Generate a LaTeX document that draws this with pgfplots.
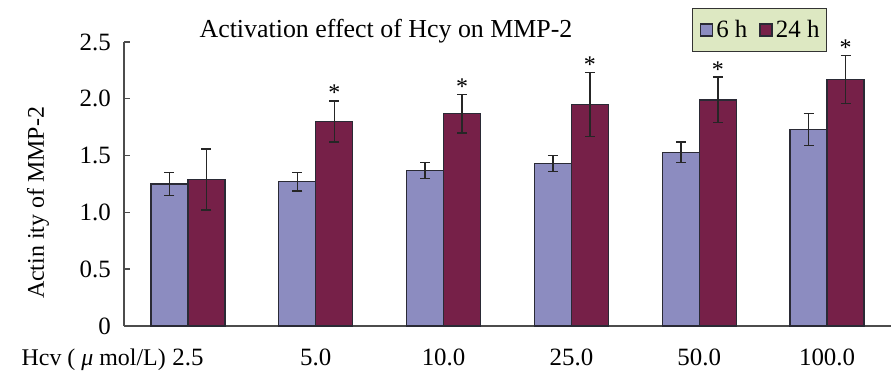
\documentclass[border=0pt]{standalone}
\usepackage{pgfplots}
\pgfplotsset{compat=1.18}
\usepackage{fontspec}
\setmainfont{Liberation Serif}
\definecolor{barblue}{HTML}{8C8CC0}
\definecolor{barred}{HTML}{762048}
\definecolor{legfill}{HTML}{DDE8C2}
\definecolor{edge}{HTML}{2A2A35}
\begin{document}
\begin{tikzpicture}
\begin{axis}[
  at={(124bp,46bp)}, anchor=south west,
  scale only axis, width=767bp, height=284bp,
  xmin=-0.5, xmax=5.5, ymin=0, ymax=2.5,
  axis x line=bottom, axis y line=left,
  axis line style={-, line width=1.4bp, draw=black!70},
  xtick={0,1,2,3,4,5},
  xticklabels={2.5,5.0,10.0,25.0,50.0,100.0},
  major x tick style={draw=none},
  extra x ticks={0.5,1.5,2.5,3.5,4.5},
  extra x tick labels={},
  extra x tick style={tick align=inside, major tick length=5bp, tick style={line width=1.4bp, black!70}},
  ytick={0,0.5,1,1.5,2,2.5},
  yticklabels={0,0.5,1.0,1.5,2.0,2.5},
  y tick style={line width=1.4bp, black!70},
  tick align=inside, major tick length=6bp,
  /pgf/number format/assume math mode=true,
  xticklabel style={anchor=base, yshift=-39bp, font=\fontsize{25}{28}\selectfont},
  yticklabel style={anchor=east, inner sep=0pt, xshift=-13bp, font=\fontsize{25}{28}\selectfont},
  clip=false,
  legend columns=2,
  legend style={at={(axis description cs:0.7405,1.1197)}, anchor=north west,
    fill=legfill, draw=black!80, line width=1.4bp,
    font=\fontsize{25}{26}\selectfont, inner xsep=7bp, inner ysep=12bp,
    nodes={inner sep=0pt},
    /tikz/every odd column/.append style={column sep=3bp},
    /tikz/every even column/.append style={column sep=12bp}},
  legend image code/.code={\draw[#1, line width=1.6bp] (0bp,-6bp) rectangle (12bp,6bp);},
]
\addplot[ybar, bar width=37bp, bar shift=0pt, fill=barblue, draw=edge, line width=1.2bp,
  error bars/.cd, y dir=both, y explicit, error mark=-,
  error bar style={line width=1.5bp, black!85},
  error mark options={rotate=90, mark size=5bp, line width=1.5bp, black!85}]
coordinates {
 (-0.1447,1.25) +- (0,0.10)
 (0.8553,1.27) +- (0,0.08)
 (1.8553,1.37) +- (0,0.07)
 (2.8553,1.43) +- (0,0.07)
 (3.8553,1.53) +- (0,0.09)
 (4.8553,1.73) +- (0,0.14)
};
\addlegendentry{6 h}
\addplot[ybar, bar width=37bp, bar shift=0pt, fill=barred, draw=edge, line width=1.2bp,
  error bars/.cd, y dir=both, y explicit, error mark=-,
  error bar style={line width=1.5bp, black!85},
  error mark options={rotate=90, mark size=5bp, line width=1.5bp, black!85}]
coordinates {
 (0.1447,1.29) +- (0,0.27)
 (1.1447,1.80) +- (0,0.18)
 (2.1447,1.87) +- (0,0.17)
 (3.1447,1.95) +- (0,0.28)
 (4.1447,1.99) +- (0,0.20)
 (5.1447,2.17) +- (0,0.21)
};
\addlegendentry{24 h}
\addplot[only marks, mark=none, forget plot,
  nodes near coords={*},
  every node near coord/.style={anchor=south, inner sep=0pt, font=\fontsize{24}{26}\selectfont}]
coordinates {
 (1.1447,1.98) (2.1447,2.04) (3.1447,2.23) (4.1447,2.19) (5.1447,2.38)
};
\end{axis}
\node[anchor=base, font=\fontsize{26}{28}\selectfont] at (386bp,334bp) {Activation effect of Hcy on MMP-2};
\node[anchor=center, rotate=90, font=\fontsize{24}{26}\selectfont] at (38bp,169bp) {Actin ity of MMP-2};
\node[anchor=base east, font=\fontsize{24}{26}\selectfont, inner sep=0pt] at (166bp,7bp) {Hcv ( \textit{μ} mol/L)};
\pgfresetboundingbox
\path[use as bounding box] (0,0) rectangle (891bp,372bp);
\end{tikzpicture}
\end{document}
